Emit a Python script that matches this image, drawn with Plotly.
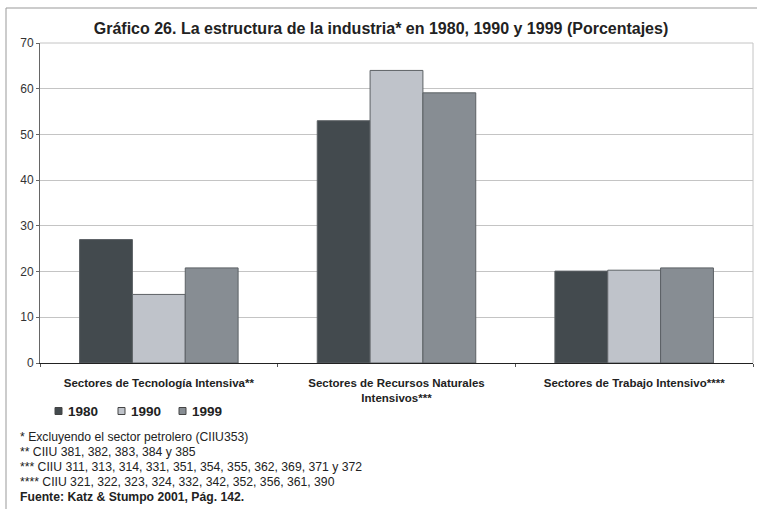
import plotly.graph_objects as go

categories = ["Sectores de Tecnología Intensiva**",
              "Sectores de Recursos Naturales<br>Intensivos***",
              "Sectores de Trabajo Intensivo****"]
series_names = ["1980", "1990", "1999"]
values_1980 = [27, 53, 20.1]
values_1990 = [15, 64, 20.3]
values_1999 = [20.8, 59.1, 20.8]
colors = ["#434a4e", "#bfc3ca", "#878d93"]
y_ticks = [0, 10, 20, 30, 40, 50, 60, 70]

footnotes = [
    "* Excluyendo el sector petrolero (CIIU353)",
    "** CIIU 381, 382, 383, 384 y 385",
    "*** CIIU 311, 313, 314, 331, 351, 354, 355, 362, 369, 371 y 372",
    "**** CIIU 321, 322, 323, 324, 332, 342, 352, 356, 361, 390",
    "<b>Fuente: Katz & Stumpo 2001, Pág. 142.</b>",
]

W, H = 757, 509
L, R, T, B = 40, 4, 43, 146
pw, ph = W - L - R, H - T - B

def px(x):
    return (x - L) / pw

def py(y):
    return (H - B - y) / ph

fig = go.Figure()
for name, vals, col in zip(series_names, [values_1980, values_1990, values_1999], colors):
    fig.add_trace(go.Bar(x=categories, y=vals, name=name, showlegend=False,
                         marker=dict(color=col, line=dict(color="#5c6165", width=1))))

font_fam = "Liberation Sans, Arial, sans-serif"

fig.update_layout(
    width=W, height=H,
    margin=dict(l=L, r=R, t=T, b=B),
    paper_bgcolor="white", plot_bgcolor="white",
    barmode="group", bargap=0.333, bargroupgap=0,
    font=dict(family=font_fam, color="#222222"),
    title=dict(text="<b>Gráfico 26. La estructura de la industria* en 1980, 1990 y 1999 (Porcentajes)</b>",
               x=381 / W, xref="container", xanchor="center", y=1 - 28 / H, yanchor="middle",
               font=dict(size=16, color="#222222", family=font_fam)),
    showlegend=False,
    xaxis=dict(showgrid=False, showline=True, linecolor="#222222", linewidth=1,
               ticks="outside", tickson="boundaries", ticklen=3, tickcolor="#555555",
               ticklabelstandoff=9,
               tickfont=dict(size=11.5, family=font_fam, color="#222222", weight="bold"),
               mirror=False),
    yaxis=dict(range=[0, 70], tickvals=y_ticks, showgrid=True, gridcolor="#c4c4c4", gridwidth=1,
               showline=True, linecolor="#666666", linewidth=1,
               ticks="outside", ticklen=3, tickcolor="#666666",
               tickfont=dict(size=12, family=font_fam, color="#333333"), zeroline=False),
)

# plot frame top/right
fig.add_shape(type="line", xref="paper", yref="paper", x0=0, x1=1, y0=1, y1=1,
              line=dict(color="#c4c4c4", width=1))
fig.add_shape(type="line", xref="paper", yref="paper", x0=1, x1=1, y0=0, y1=1,
              line=dict(color="#c4c4c4", width=1))
# outer border
fig.add_shape(type="line", xref="paper", yref="paper", x0=px(6), x1=px(757), y0=py(8), y1=py(8),
              line=dict(color="#999999", width=1))
fig.add_shape(type="line", xref="paper", yref="paper", x0=px(6), x1=px(6), y0=py(8), y1=py(509),
              line=dict(color="#999999", width=1))

# manual legend
legend_x = [55, 118, 179]
for name, col, lx in zip(series_names, colors, legend_x):
    fig.add_shape(type="rect", xref="paper", yref="paper",
                  x0=px(lx), x1=px(lx + 7), y0=py(407.5), y1=py(414.5),
                  fillcolor=col, line=dict(color="#444444", width=1))
    fig.add_annotation(text="<b>" + name + "</b>", xref="paper", yref="paper",
                       x=px(lx + 11), y=py(411), xanchor="left", yanchor="middle",
                       showarrow=False, font=dict(size=13.5, color="#222222", family=font_fam))

for i, txt in enumerate(footnotes):
    fig.add_annotation(text=txt, xref="paper", yref="paper", x=px(18), y=py(437 + i * 15),
                       xanchor="left", yanchor="middle", showarrow=False,
                       font=dict(size=12.2, color="#222222", family=font_fam))

fig.write_html("out.html", config={"displayModeBar": False},
               post_script="document.body.style.margin='0';document.body.style.overflow='hidden';")
